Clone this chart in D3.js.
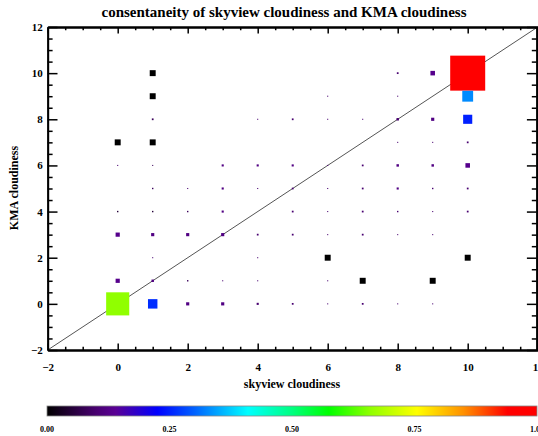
<!DOCTYPE html>
<html>
<head>
<meta charset="utf-8">
<script src="https://cdn.jsdelivr.net/npm/d3@7"></script>
<style>
body{margin:0;background:#fff;}
svg{display:block;}
text{font-family:"Liberation Serif","DejaVu Serif",serif;font-weight:bold;fill:#000;}
</style>
</head>
<body>
<svg id="chart"></svg>
<script>
// skyview (x) / KMA (y) pairs, box size (in cloudiness units) and colour value
var skyview = [1,8,9,10, 1,6,8,10, 1,4,5,6,7,8,9,10, 0,1,8,9,10,
               0,1,3,4,5,6,7,8,9,10, 1,2,3,4,5,6,7,8,9,10, 0,1,2,3,5,6,7,8,9,10,
               0,1,2,3,4,5,6,7,8,9, 1,4,6,10, 0,1,2,3,4,6,7,9, 0,1,2,3,4,5,6,7,8,9];
var kma     = [10,10,10,10, 9,9,9,9, 8,8,8,8,8,8,8,8, 7,7,7,7,7,
               6,6,6,6,6,6,6,6,6,6, 5,5,5,5,5,5,5,5,5,5, 4,4,4,4,4,4,4,4,4,4,
               3,3,3,3,3,3,3,3,3,3, 2,2,2,2, 1,1,1,1,1,1,1,1, 0,0,0,0,0,0,0,0,0,0];
var boxSize = [.17,.05,.13,1.0, .17,.03,.03,.31, .05,.03,.05,.03,.03,.07,.09,.26, .17,.17,.03,.03,.05,
               .03,.03,.06,.06,.06,.03,.05,.07,.07,.13, .04,.03,.06,.03,.05,.03,.05,.06,.04,.05,
               .04,.04,.04,.06,.05,.03,.05,.04,.03,.05,
               .12,.09,.09,.09,.05,.05,.03,.05,.03,.03, .03,.03,.17,.17,
               .12,.07,.04,.03,.03,.03,.17,.17, .66,.27,.09,.09,.06,.05,.03,.05,.03,.03];
var shade   = [0,.1,.13,1.0, 0,.1,.1,.33, .08,.1,.1,.1,.1,.1,.12,.25, 0,0,.1,.1,.1,
               .1,.08,.12,.12,.12,.1,.1,.12,.12,.13, .08,.1,.12,.1,.1,.1,.1,.12,.1,.1,
               .05,.05,.08,.12,.1,.1,.1,.1,.1,.1,
               .13,.12,.12,.12,.1,.1,.1,.1,.1,.1, .1,.1,0,0,
               .13,.12,.08,.1,.1,.1,0,0, .66,.26,.12,.12,.1,.1,.1,.1,.1,.1];
var majorTicks = [-2,0,2,4,6,8,10,12];
var barTicks = [0,0.25,0.5,0.75,1.0];

// rainbow colour table
var ctStops  = [0,.10,.14,.225,.30,.41,.50,.575,.66,.755,.85,.94,1];
var ctColors = ["#000000","#480070","#5a0095","#0000ff","#0060ff","#00ffff","#00ff80",
                "#00ff00","#90ff00","#ffff00","#ff9000","#ff0000","#ff0000"];
var color = d3.scaleLinear().domain(ctStops).range(ctColors).interpolate(d3.interpolateRgb);

drawChart("#chart");

function drawChart(id){
	var svgWidth = 538, svgHeight = 436;
	var svg = d3.select(id).attr("width",svgWidth).attr("height",svgHeight);

	var x = d3.scaleLinear().domain([-2,12]).range([47.7,537.7]);
	var y = d3.scaleLinear().domain([-2,12]).range([350,27]);
	var unit = x(1) - x(0);

	var minor = d3.range(-2,12.01,0.5).filter(function(v){ return v % 2 !== 0; });

	svg.append("text")
	   .attr("x",284).attr("y",17)
	   .attr("text-anchor","middle")
	   .attr("font-size","15px")
	   .text("consentaneity of skyview cloudiness and KMA cloudiness");

	// diagonal 1:1 line
	svg.append("line")
	   .attr("x1",x(-2)).attr("y1",y(-2))
	   .attr("x2",x(12)).attr("y2",y(12))
	   .attr("stroke","#555").attr("stroke-width",1);

	var idx = d3.range(skyview.length);
	svg.append("g").selectAll("rect")
	   .data(idx)
	   .enter()
	   .append("rect")
	   .attr("x",function(i){ return x(skyview[i]) - boxSize[i]*unit/2; })
	   .attr("y",function(i){ return y(kma[i]) - boxSize[i]*unit/2; })
	   .attr("width",function(i){ return boxSize[i]*unit; })
	   .attr("height",function(i){ return boxSize[i]*unit; })
	   .attr("fill",function(i){ return color(shade[i]); });

	// axes with inward ticks
	function axisGroup(axis,tx,ty){
		return svg.append("g").attr("transform","translate("+tx+","+ty+")").call(axis);
	}
	var xl = 6.5, yl = 9.8;
	var gb = axisGroup(d3.axisBottom(x).tickValues(majorTicks).tickSize(-xl).tickSizeOuter(0).tickPadding(13).tickFormat(d3.format("d")),0,y(-2));
	axisGroup(d3.axisBottom(x).tickValues(minor).tickSize(-xl/2).tickSizeOuter(0).tickFormat(""),0,y(-2));
	axisGroup(d3.axisTop(x).tickValues(majorTicks).tickSize(-xl).tickSizeOuter(0).tickFormat(""),0,y(12));
	axisGroup(d3.axisTop(x).tickValues(minor).tickSize(-xl/2).tickSizeOuter(0).tickFormat(""),0,y(12));
	var gl = axisGroup(d3.axisLeft(y).tickValues(majorTicks).tickSize(-yl).tickSizeOuter(0).tickPadding(5).tickFormat(d3.format("d")),x(-2),0);
	axisGroup(d3.axisLeft(y).tickValues(minor).tickSize(-yl/2).tickSizeOuter(0).tickFormat(""),x(-2),0);
	axisGroup(d3.axisRight(y).tickValues(majorTicks).tickSize(-yl).tickSizeOuter(0).tickFormat(""),x(12)-1,0);
	axisGroup(d3.axisRight(y).tickValues(minor).tickSize(-yl/2).tickSizeOuter(0).tickFormat(""),x(12)-1,0);

	svg.selectAll(".domain").attr("stroke","#000").attr("stroke-width",1.8);
	svg.selectAll(".tick line").attr("stroke","#000").attr("stroke-width",1.5);
	svg.selectAll(".tick text")
	   .attr("font-family","Liberation Serif, serif")
	   .attr("font-weight","bold")
	   .attr("font-size","11px")
	   .attr("fill","#000");

	svg.append("text")
	   .attr("x",292).attr("y",388)
	   .attr("text-anchor","middle")
	   .attr("font-size","12px")
	   .text("skyview cloudiness");

	svg.append("text")
	   .attr("transform","translate(18,188) rotate(-90)")
	   .attr("text-anchor","middle")
	   .attr("font-size","12px")
	   .text("KMA cloudiness");

	// colour bar
	var cb = d3.scaleLinear().domain([0,1]).range([47,537]);
	var grad = svg.append("defs").append("linearGradient")
	   .attr("id","ct").attr("x1","0%").attr("x2","100%");
	grad.selectAll("stop")
	   .data(ctStops)
	   .enter()
	   .append("stop")
	   .attr("offset",function(d){ return (d*100)+"%"; })
	   .attr("stop-color",function(d,i){ return ctColors[i]; });

	svg.append("rect")
	   .attr("x",cb(0)).attr("y",406)
	   .attr("width",cb(1)-cb(0)).attr("height",10)
	   .attr("fill","url(#ct)")
	   .attr("stroke","#888").attr("stroke-width",0.8);

	svg.append("g").selectAll("text")
	   .data(barTicks)
	   .enter()
	   .append("text")
	   .attr("x",function(d){ return cb(d); })
	   .attr("y",432)
	   .attr("text-anchor","middle")
	   .attr("font-size","8px")
	   .text(function(d){ return d3.format(".2f")(d); });
}
</script>
</body>
</html>
